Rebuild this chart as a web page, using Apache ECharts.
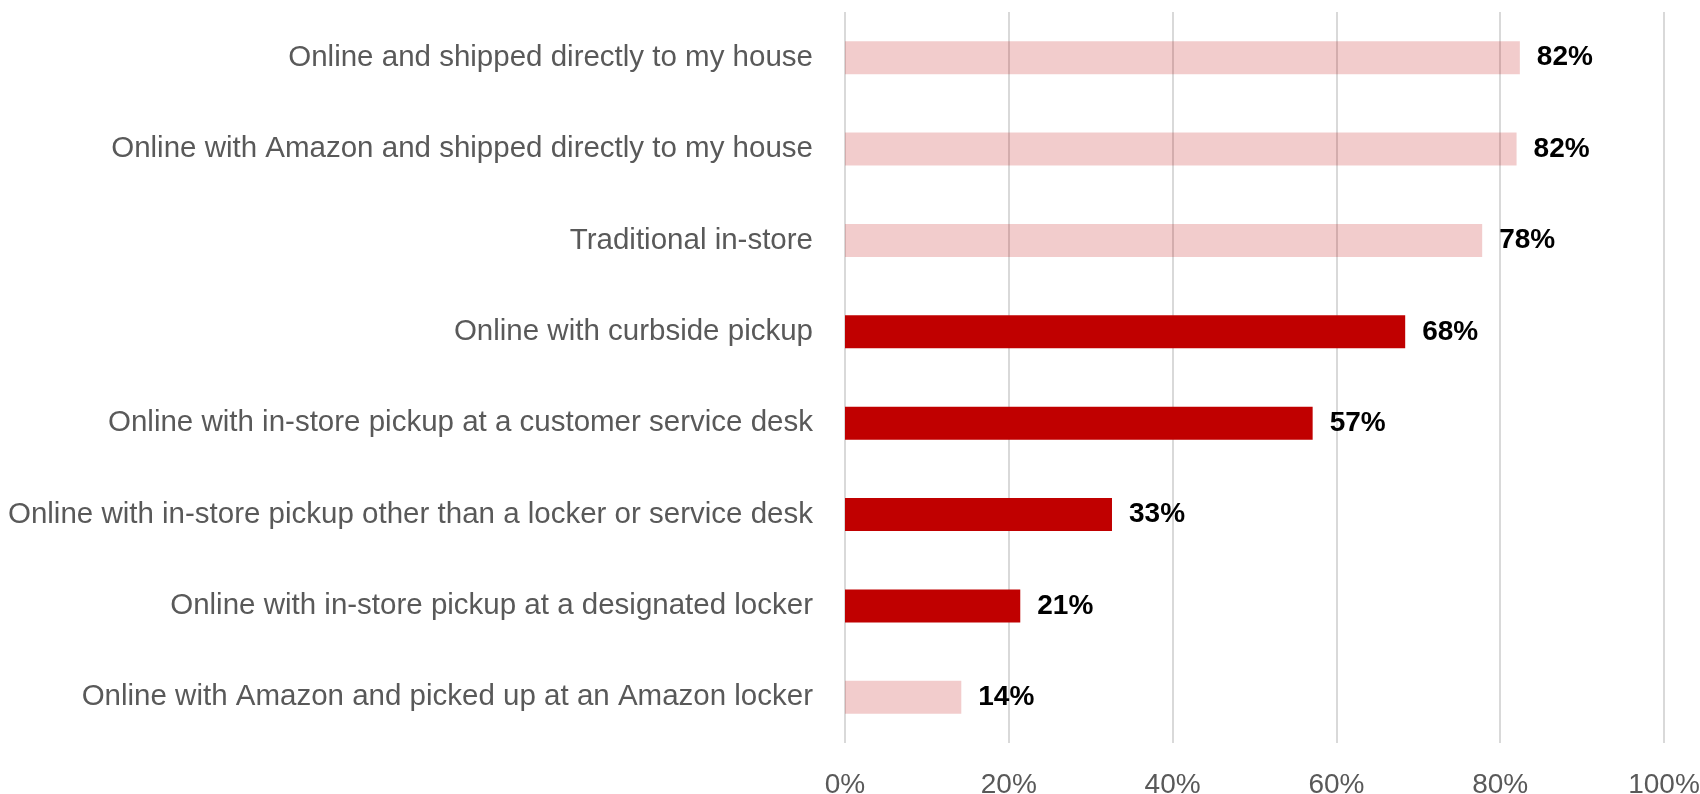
<!DOCTYPE html>
<html>
<head>
<meta charset="utf-8">
<script src="https://cdn.jsdelivr.net/npm/echarts@6/dist/echarts.min.js"></script>
<style>
html,body{margin:0;padding:0;background:#fff;}
#chart{width:1700px;height:794px;}
</style>
</head>
<body>
<div id="chart"></div>
<script>
const categories = [
  "Online and shipped directly to my house",
  "Online with Amazon and shipped directly to my house",
  "Traditional in-store",
  "Online with curbside pickup",
  "Online with in-store pickup at a customer service desk",
  "Online with in-store pickup other than a locker or service desk",
  "Online with in-store pickup at a designated locker",
  "Online with Amazon and picked up at an Amazon locker"
];
const values = [82.4, 82.0, 77.8, 68.4, 57.1, 32.6, 21.4, 14.2];
const highlighted = [false, false, false, true, true, true, true, false];
const xTicks = [0, 20, 40, 60, 80, 100];

const FONT = '"Liberation Sans", Arial, sans-serif';
const chart = echarts.init(document.getElementById('chart'));
chart.setOption({
  animation: false,
  grid: { left: 845, right: 36, top: 12, bottom: 51, containLabel: false, outerBoundsMode: 'none' },
  xAxis: {
    type: 'value', min: xTicks[0], max: xTicks[xTicks.length - 1], interval: 20,
    axisLine: { show: false }, axisTick: { show: false },
    splitLine: { show: true, lineStyle: { color: '#D9D9D9', width: 2 } },
    axisLabel: { formatter: '{value}%', color: '#595959', fontSize: 28, fontFamily: FONT, margin: 28 }
  },
  yAxis: {
    type: 'category', data: categories, inverse: true,
    axisLine: { show: false }, axisTick: { show: false },
    axisLabel: { color: '#595959', fontSize: 29.5, fontFamily: FONT, margin: 32 }
  },
  series: [{
    type: 'bar',
    barWidth: 33,
    data: values.map((v, i) => ({
      value: v,
      itemStyle: { color: highlighted[i] ? '#C00000' : 'rgba(192,0,0,0.2)' }
    })),
    label: {
      show: true, position: 'right', distance: 17,
      formatter: p => Math.round(p.value) + '%',
      color: '#000', fontWeight: 'bold', fontSize: 28, fontFamily: FONT
    }
  }]
});
</script>
</body>
</html>
